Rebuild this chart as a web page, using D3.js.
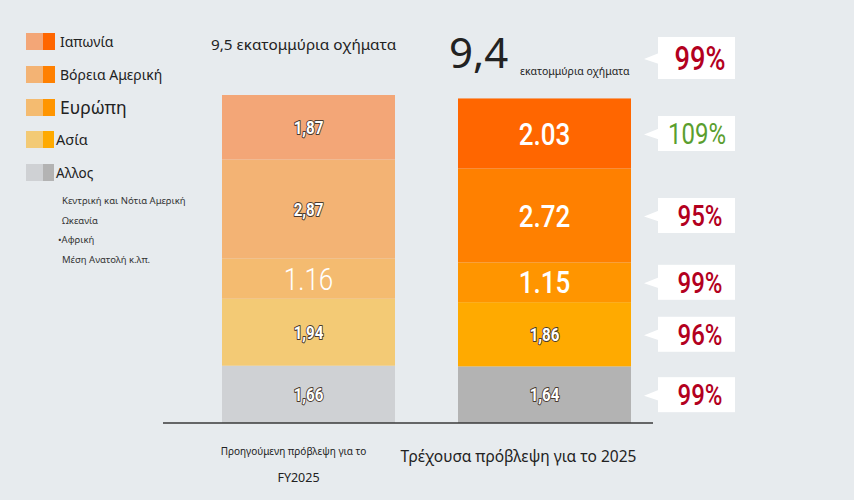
<!DOCTYPE html>
<html>
<head>
<meta charset="utf-8">
<script src="https://cdn.jsdelivr.net/npm/d3@7"></script>
<style>
  body { margin: 0; background: #e7ebee; }
  svg { display: block; }
</style>
</head>
<body>
<svg width="854" height="500"></svg>
<script>
// data (stacked bottom-up: Japan ends on top)
const regions = ["Ιαπωνία", "Βόρεια Αμερική", "Ευρώπη", "Ασία", "Αλλος"];
const otherItems = ["Κεντρική και Νότια Αμερική", "Ωκεανία", "•Αφρική", "Μέση Ανατολή κ.λπ."];
const forecasts = ["prev", "curr"];
const prevValues = [1.87, 2.87, 1.16, 1.94, 1.66];
const currValues = [2.03, 2.72, 1.15, 1.86, 1.64];
const prevLabels = ["1,87", "2,87", "1.16", "1,94", "1,66"];
const currLabels = ["2.03", "2.72", "1.15", "1,86", "1,64"];
const totalLabels = ["9,5", "9,4"];
const totalPct = 99;
const regionPct = [109, 95, 99, 96, 99];
const prevColors = ["#f3a677", "#f3b374", "#f4bb70", "#f3ca75", "#cfd1d4"];
const currColors = ["#ff6600", "#ff8000", "#ff9500", "#ffaa00", "#b3b3b3"];

const svg = d3.select("svg");
const greek = "'Noto Sans', 'DejaVu Sans', sans-serif";
const narrow = "Roboto, 'DejaVu Sans', sans-serif";

// scales
const y = d3.scaleLinear().domain([0, 9.5]).range([423, 95]);
const x = d3.scaleBand().domain(forecasts).range([222, 631]).paddingInner(0.267);

// stack each bar, last region (Other) at the bottom
function stackUp(values, labels, colors, key) {
  let acc = 0;
  const out = [];
  for (let i = values.length - 1; i >= 0; i--) {
    out.push({ key, i, y0: acc, y1: acc + values[i], label: labels[i], color: colors[i] });
    acc += values[i];
  }
  return out;
}
const segs = stackUp(prevValues, prevLabels, prevColors, "prev")
  .concat(stackUp(currValues, currLabels, currColors, "curr"));

svg.append("g").selectAll("rect")
  .data(segs).enter().append("rect")
  .attr("x", d => x(d.key))
  .attr("width", x.bandwidth())
  .attr("y", d => y(d.y1))
  .attr("height", d => y(d.y0) - y(d.y1))
  .attr("fill", d => d.color);

// segment labels: dotted ones are big and plain, comma ones small with outline
const lab = svg.append("g").selectAll("text")
  .data(segs).enter().append("text")
  .attr("transform", d => `translate(${x(d.key) + x.bandwidth() / 2},${(y(d.y0) + y(d.y1)) / 2}) scale(0.84,1)`)
  .attr("dy", "0.36em")
  .attr("text-anchor", "middle")
  .attr("font-family", narrow)
  .attr("fill", "#fff")
  .text(d => d.label);
lab.filter(d => d.label.includes("."))
  .attr("font-size", 31)
  .attr("font-weight", d => d.key === "curr" ? 500 : 300);
lab.filter(d => !d.label.includes("."))
  .attr("font-size", 18)
  .attr("font-weight", 700)
  .attr("stroke", "#4a3a2e")
  .attr("stroke-width", 2)
  .attr("paint-order", "stroke")
  .attr("stroke-linejoin", "round");

// baseline
svg.append("line")
  .attr("x1", 163).attr("x2", 653)
  .attr("y1", y(0)).attr("y2", y(0))
  .attr("stroke", "#3a3a3a").attr("stroke-width", 1.5);

// headers
svg.append("text")
  .attr("x", 211).attr("y", 50)
  .attr("font-family", greek).attr("font-size", 15.3).attr("fill", "#222")
  .text(totalLabels[0] + " εκατομμύρια οχήματα");
svg.append("text")
  .attr("x", 449).attr("y", 68)
  .attr("font-family", greek).attr("font-size", 42).attr("fill", "#222")
  .text(totalLabels[1]);
svg.append("text")
  .attr("x", 520).attr("y", 75)
  .attr("font-family", greek).attr("font-size", 10.5).attr("fill", "#222")
  .text("εκατομμύρια οχήματα");

// callouts, aligned with the current bar's segments
const currSegs = regions.map((r, i) => segs.find(d => d.key === "curr" && d.i === i));
const callouts = [{ pct: totalPct, cy: 58, h: 42, fs: 34 }]
  .concat(regionPct.map((p, i) => ({
    pct: p, cy: (y(currSegs[i].y0) + y(currSegs[i].y1)) / 2, h: 35, fs: 30
  })));

const cg = svg.append("g").selectAll("g")
  .data(callouts).enter().append("g")
  .attr("transform", d => `translate(0,${d.cy})`);
cg.append("rect")
  .attr("x", 658).attr("width", 77)
  .attr("y", d => -d.h / 2).attr("height", d => d.h)
  .attr("fill", "#fff");
cg.append("path")
  .attr("d", "M644,1 L659,-5 L659,6 Z")
  .attr("fill", "#fff");
cg.append("text")
  .attr("transform", d => `translate(${d.pct >= 100 ? 697 : 700},0) scale(0.8,1)`)
  .attr("dy", "0.36em")
  .attr("text-anchor", "middle")
  .attr("font-family", narrow)
  .attr("font-size", d => d.fs)
  .attr("font-weight", d => d.pct >= 100 ? 400 : 500)
  .attr("fill", d => d.pct >= 100 ? "#5a9e2e" : "#b3001e")
  .text(d => d.pct + "%");

// legend
const legTop = [33, 66, 99, 131, 164];
const legFs = [14, 14, 17.5, 14.5, 13.5];
const lg = svg.append("g").selectAll("g")
  .data(regions).enter().append("g")
  .attr("transform", (d, i) => `translate(0,${legTop[i]})`);
lg.append("rect")
  .attr("x", 26).attr("width", 17).attr("height", 17)
  .attr("fill", (d, i) => prevColors[i]);
lg.append("rect")
  .attr("x", 43).attr("width", (d, i) => i >= 3 ? 11 : 12).attr("height", 17)
  .attr("fill", (d, i) => currColors[i]);
lg.append("text")
  .attr("x", (d, i) => i >= 3 ? 56 : 60)
  .attr("y", (d, i) => i === 2 ? 15 : 14)
  .attr("font-family", greek)
  .attr("font-size", (d, i) => legFs[i])
  .attr("fill", "#222")
  .text(d => d);

svg.append("g").selectAll("text")
  .data(otherItems).enter().append("text")
  .attr("x", d => d.startsWith("•") ? 58 : 62)
  .attr("y", (d, i) => 204 + i * 19.7)
  .attr("font-family", greek).attr("font-size", 9.5).attr("fill", "#333")
  .text(d => d);

// bar captions
svg.append("text")
  .attr("x", x("prev") + x.bandwidth() / 2 - 15).attr("y", 455)
  .attr("text-anchor", "middle")
  .attr("font-family", greek).attr("font-size", 10).attr("fill", "#222")
  .text("Προηγούμενη πρόβλεψη για το");
svg.append("text")
  .attr("x", x("prev") + x.bandwidth() / 2 - 10).attr("y", 482)
  .attr("text-anchor", "middle")
  .attr("font-family", greek).attr("font-size", 12.5).attr("fill", "#222")
  .text("FY2025");
svg.append("text")
  .attr("x", x("curr") + x.bandwidth() / 2 - 26).attr("y", 462)
  .attr("text-anchor", "middle")
  .attr("font-family", greek).attr("font-size", 15.5).attr("fill", "#222")
  .text("Τρέχουσα πρόβλεψη για το 2025");
</script>
</body>
</html>
